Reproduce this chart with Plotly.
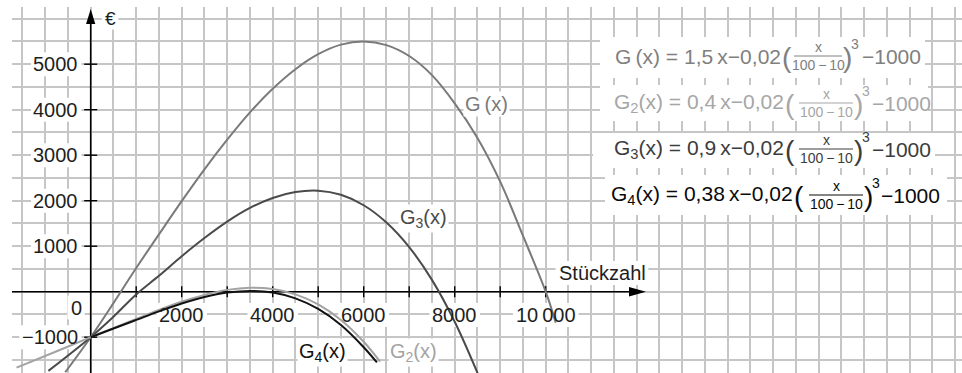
import plotly.graph_objects as go

# ---------------- data ----------------
x_G = [-560, 0, 500, 1000, 1500, 2000, 2500, 3000, 3500, 4000, 4500, 5000, 5500,
       6000, 6500, 7000, 7500, 8000, 8500, 9000, 9500, 10000, 10220]
y_G = [-1770, -1000, -250, 520, 1260, 1990, 2690, 3340, 3940, 4460, 4890, 5220, 5430,
       5500, 5420, 5180, 4760, 4140, 3380, 2420, 1230, 0, -680]

x_G3 = [-930, 0, 500, 1000, 1500, 2000, 2500, 3000, 3500, 4000, 4500, 5000, 5500,
        6000, 6500, 7000, 7500, 8000, 8520]
y_G3 = [-1740, -1000, -550, -60, 350, 780, 1180, 1540, 1840, 2060, 2190, 2220, 2130,
        1900, 1520, 980, 260, -660, -1830]

x_G2 = [-1630, -800, 0, 500, 1000, 1500, 2000, 2500, 3000, 3500, 4000, 4500, 5000,
        5500, 6000, 6360]
y_G2 = [-1670, -1330, -1000, -800, -600, -400, -220, -70, 40, 88, 60, -58, -280,
        -622, -1100, -1536]

x_G4 = [0, 500, 1000, 1500, 2000, 2500, 3000, 3500, 4000, 4500, 5000, 5500, 6000, 6290]
y_G4 = [-1000, -808, -620, -432, -260, -118, -20, 18, -20, -148, -380, -732, -1220, -1555]

x_ticks = [1000, 2000, 3000, 4000, 5000, 6000, 7000, 8000, 9000, 10000]
x_tick_labels = {2000: "2000", 4000: "4000", 6000: "6000", 8000: "8000", 10000: "10\u2009000"}
y_ticks = [-1000, 1000, 2000, 3000, 4000, 5000]
y_tick_labels = {-1000: "\u22121000", 1000: "1000", 2000: "2000", 3000: "3000",
                 4000: "4000", 5000: "5000"}

# ---------------- pixel <-> data helpers (layout only) ----------------
W, H = 962, 373
ML, MT = 12, 7
PX0, PY0, S = 90.7, 291.7, 45.5     # origin pixel, px per 1000 units


def X(px):
    return (px - PX0) / S * 1000


def Y(py):
    return (PY0 - py) / S * 1000


def dx(p):
    return p / S * 1000


def Xp(x):
    return PX0 + x * S / 1000


def Yp(y):
    return PY0 - y * S / 1000


CW = {"\u2212": .584, ",": .278, "\u2009": .2, " ": .278, "S": .667, "t": .278, "l": .222,
      "c": .5, "k": .5, "z": .5, "x": .5, "G": .778, "(": .333, ")": .333, "\u20ac": .556}


def text_w(s, size):
    return sum(CW.get(ch, .556) for ch in s) * size


FONT = "Liberation Sans, Arial, Helvetica, sans-serif"
TXT = "#1e1e1e"
C_G, C_G2, C_G3, C_G4 = "#7a7a7a", "#a3a3a3", "#4a4a4a", "#121212"

fig = go.Figure()
for xs, ys, c in [(x_G, y_G, C_G), (x_G3, y_G3, C_G3), (x_G2, y_G2, C_G2), (x_G4, y_G4, C_G4)]:
    fig.add_trace(go.Scatter(x=xs, y=ys, mode="lines", hoverinfo="skip",
                             line=dict(color=c, width=2, shape="spline", smoothing=1.0)))

shapes = []
ann = []

# axes
shapes.append(dict(type="line", layer="between", x0=X(ML), x1=X(632), y0=0, y1=0,
                   line=dict(color="black", width=1.6)))
shapes.append(dict(type="path", layer="between", fillcolor="black", line=dict(width=0),
                   path=f"M {X(646)} 0 L {X(629)} {dx(4.8)} L {X(629)} {-dx(4.8)} Z"))
shapes.append(dict(type="line", layer="between", x0=0, x1=0, y0=Y(H), y1=Y(21),
                   line=dict(color="black", width=1.6)))
shapes.append(dict(type="path", layer="between", fillcolor="black", line=dict(width=0),
                   path=f"M 0 {Y(9)} L {-dx(4.6)} {Y(24)} L {dx(4.6)} {Y(24)} Z"))
for t in x_ticks:
    shapes.append(dict(type="line", layer="between", x0=t, x1=t, y0=-dx(5.5), y1=dx(5.5),
                       line=dict(color="black", width=1.4)))
for t in y_ticks:
    shapes.append(dict(type="line", layer="between", y0=t, y1=t, x0=-dx(6.5), x1=dx(6.5),
                       line=dict(color="black", width=1.4)))


def label(x, y, text, size=20, color=TXT, xanchor="center", bg=None, pad=0):
    ann.append(dict(x=x, y=y, xref="x", yref="y", text=text, showarrow=False,
                    xanchor=xanchor, yanchor="middle", bgcolor=bg, borderpad=pad,
                    font=dict(family=FONT, size=size, color=color)))


def bg_label(x, y, text, size=20, color=TXT, xanchor="center", padx=3, pady=2):
    """text with a white box drawn beneath the curves (curves pass over it)"""
    w = text_w(text, size)
    cx = Xp(x)
    if xanchor == "right":
        left = cx - w
    elif xanchor == "left":
        left = cx
    else:
        left = cx - w / 2
    cy = Yp(y)
    shapes.append(dict(type="rect", layer="between", x0=X(left - padx), x1=X(left + w + padx),
                       y0=Y(cy + size * 0.5 + pady), y1=Y(cy - size * 0.5 - pady),
                       fillcolor="white", line=dict(width=0)))
    label(x, y, text, size=size, color=color, xanchor=xanchor)


for t, s in x_tick_labels.items():
    bg_label(t, Y(315), s)
for t, s in y_tick_labels.items():
    bg_label(X(78.5), t, s, xanchor="right")
bg_label(X(76), Y(307.5), "0")
bg_label(X(602), Y(273), "Stückzahl")
bg_label(X(110), Y(18), "\u20ac", size=19)

# curve labels
label(X(486), Y(104), "G\u2009(x)", color=C_G, size=20, bg="white", pad=1)
label(X(423), Y(218), "G<sub>3</sub>(x)", color=C_G3, size=20, bg="white", pad=1)
label(X(322), Y(352), "G<sub>4</sub>(x)", color=C_G4, size=20, bg="white", pad=1)
label(X(413), Y(352), "G<sub>2</sub>(x)", color=C_G2, size=20, bg="white", pad=1)

# formulas (pieces positioned in pixels)
FS = 21
formulas = [
    dict(lhs="G\u2009(x) = 1,5\u2009x\u22120,02", color="#808080", yc=56,
         lp=787, fc=818, fw=48, rp=847, sup=855, rest=861, box=(600, 925, 37, 78)),
    dict(lhs="G<sub>2</sub>(x) = 0,4\u2009x\u22120,02", color="#a6a6a6", yc=103,
         lp=790, fc=826, fw=54, rp=858, sup=866, rest=871, box=(600, 928, 85, 121)),
    dict(lhs="G<sub>3</sub>(x) = 0,9\u2009x\u22120,02", color="#3c3c3c", yc=149,
         lp=790, fc=826, fw=54, rp=858, sup=866, rest=871, box=(593, 935, 133, 168)),
    dict(lhs="G<sub>4</sub>(x) = 0,38\u2009x\u22120,02", color="#0a0a0a", yc=195,
         lp=799, fc=836, fw=54, rp=868, sup=876, rest=880, box=(605, 947, 175, 215)),
]
for f in formulas:
    c, yc = f["color"], f["yc"]
    x0b, x1b, y0b, y1b = f["box"]
    shapes.append(dict(type="rect", layer="between", x0=X(x0b), x1=X(x1b), y0=Y(y1b), y1=Y(y0b),
                       fillcolor="white", line=dict(width=0)))
    label(X(f["lp"] - 5), Y(yc), f["lhs"], size=FS, color=c, xanchor="right")
    label(X(f["lp"]), Y(yc + 1), "(", size=28, color=c)
    label(X(f["fc"]), Y(yc - 9), "x", size=14, color=c)
    label(X(f["fc"]), Y(yc + 9), "100\u2009\u2212\u200910", size=14, color=c)
    shapes.append(dict(type="line", layer="above", x0=X(f["fc"] - f["fw"] / 2), x1=X(f["fc"] + f["fw"] / 2),
                       y0=Y(yc), y1=Y(yc), line=dict(color=c, width=1)))
    label(X(f["rp"]), Y(yc + 1), ")", size=28, color=c)
    label(X(f["sup"]), Y(yc - 12), "3", size=14, color=c)
    label(X(f["rest"]), Y(yc), "\u22121000", size=FS, color=c, xanchor="left")

fig.update_layout(
    width=W, height=H, margin=dict(l=ML, r=0, t=MT, b=0, pad=0),
    paper_bgcolor="white", plot_bgcolor="white", showlegend=False,
    shapes=shapes, annotations=ann,
    xaxis=dict(range=[X(ML), X(W)], showgrid=True, tick0=0, dtick=500, gridcolor="#c6c6c6",
               gridwidth=1.6, zeroline=False, showticklabels=False, showline=False, ticks="",
               fixedrange=True),
    yaxis=dict(range=[Y(H), Y(MT)], showgrid=True, tick0=0, dtick=500, gridcolor="#c6c6c6",
               gridwidth=1.6, zeroline=False, showticklabels=False, showline=False, ticks="",
               fixedrange=True),
)

fig.write_html("out.html", config={"displayModeBar": False},
               post_script="document.body.style.margin='0';document.body.style.overflow='hidden';")
